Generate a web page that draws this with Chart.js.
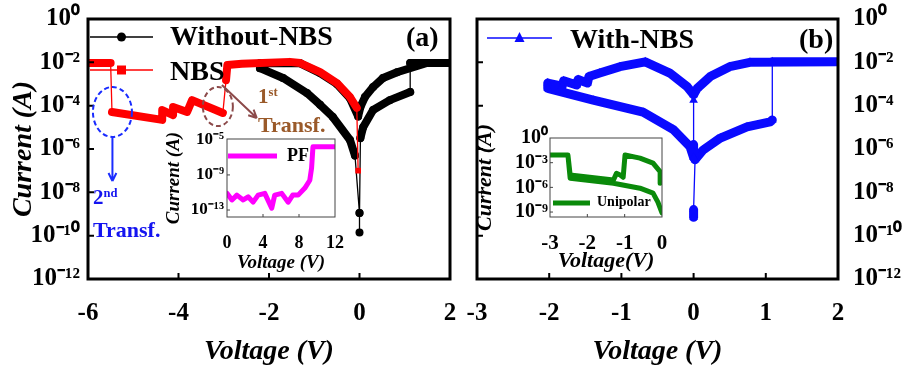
<!DOCTYPE html>
<html>
<head>
<meta charset="utf-8">
<script src="https://cdn.jsdelivr.net/npm/chart.js@4.4.1/dist/chart.umd.min.js"></script>
<style>
  body { margin: 0; background: #fff; }
  #fig { position: relative; width: 906px; height: 371px; overflow: hidden; background: #fff;
         font-family: 'Liberation Serif', 'Times New Roman', serif; }
  #fig canvas { position: absolute; }
  .txt { position: absolute; font-weight: bold; white-space: nowrap; line-height: 1; }
  .txt sup { font-size: 60%; vertical-align: 0.55em; line-height: 0; }
</style>
</head>
<body>
<div id="fig">
  <canvas id="chartA" width="460" height="371" style="left:0;top:0"></canvas>
  <canvas id="chartB" width="446" height="371" style="left:460px;top:0"></canvas>
  <canvas id="insetA" width="200" height="155" style="left:150px;top:120px"></canvas>
  <canvas id="insetB" width="200" height="155" style="left:470px;top:120px"></canvas>

  <div class="txt" style="left:170px;top:22px;font-size:28px">Without-NBS</div>
  <div class="txt" style="left:170px;top:57px;font-size:28px">NBS</div>
  <div class="txt" style="left:406px;top:23px;font-size:28px">(a)</div>
  <div class="txt" style="left:570px;top:25px;font-size:28px">With-NBS</div>
  <div class="txt" style="left:799px;top:25px;font-size:28px">(b)</div>
  <div class="txt" style="left:258px;top:86px;font-size:21px;color:#9a5a2a">1<sup>st</sup></div>
  <div class="txt" style="left:258px;top:114px;font-size:22px;color:#9a5a2a">Transf.</div>
  <div class="txt" style="left:93px;top:187px;font-size:21px;color:#1414f0">2<sup>nd</sup></div>
  <div class="txt" style="left:93px;top:219px;font-size:22px;color:#1414f0">Transf.</div>
  <div class="txt" style="left:287px;top:146px;font-size:18px">PF</div>
  <div class="txt" style="left:597px;top:195px;font-size:14px">Unipolar</div>
</div>
<script>
// ---- data ----
const mainYTicks = [1e0, 1e-2, 1e-4, 1e-6, 1e-8, 1e-10, 1e-12];
const pfYTicks = [1e-5, 1e-9, 1e-13];
const uniYTicks = [1e0, 1e-3, 1e-6, 1e-9];

// (a) Without-NBS, black circles
const noNbsV = [0, 0, 0.02, 0.08, 0.3, 0.67, 1.12, 1.12, 2.0, 1.49, 0.83, 0.52, 0.3, 0.12, 0.02,
  -0.03, -0.21, -0.5, -0.87, -1.31, -2.2, -2.2, -1.69, -1.16, -0.87, -0.59, -0.21, -0.1, 0];
const noNbsI = [1.4e-10, 1.1e-9, 3.2e-6, 1.0e-5, 6.3e-5, 1.8e-4, 4.3e-4, 9.3e-3, 9.3e-3, 9.3e-3, 3.5e-3, 1.9e-3, 7.2e-4, 2.5e-4, 8.7e-5,
  3.2e-5, 2.2e-4, 1.0e-3, 3.2e-3, 9.0e-3, 9.0e-3, 5.4e-3, 1.9e-3, 3.8e-4, 1.1e-4, 3.0e-5, 2.6e-6, 5.0e-7, 1.1e-9];

// (a) NBS, red squares
const nbsV = [-6, -5.5, -5.47, -4.36, -4.36, -4.12, -4.12, -3.81, -3.7, -3.02, -2.95, -2.92, -2.6,
  -1.54, -1.31, -0.87, -0.5, -0.21, -0.06, -0.03];
const nbsI = [9.3e-3, 9.3e-3, 5.1e-5, 2.2e-5, 6.3e-5, 3.7e-5, 8.7e-5, 5.1e-5, 1.8e-4, 4.6e-5, 1.5e-3, 7.6e-3, 8.5e-3,
  1.05e-2, 9.3e-3, 3.5e-3, 1.1e-3, 2.5e-4, 7.9e-5, 1.0e-7];

// (b) With-NBS, blue triangles
const withNbsV = [0, 0, 0.02, 0.13, 0.37, 0.74, 1.06, 1.09, 1.09, 2.0, 0.78, 0.5, 0.23, 0.05, 0,
  -0.09, -0.33, -0.67, -1.02, -1.3, -1.45, -1.47, -1.6, -1.62, -1.8, -1.82, -2.02, -2.02,
  -1.39, -0.7, -0.28, -0.05, 0, 0, 0];
const withNbsI = [7.1e-10, 1.6e-9, 3.2e-7, 8.9e-7, 3.2e-6, 1.05e-5, 1.8e-5, 2.2e-5, 1.05e-2, 1.05e-2, 1.0e-2, 6.3e-3, 2.2e-3, 6.3e-4, 3.2e-4,
  7.6e-4, 3.2e-3, 1.05e-2, 6.3e-3, 3.2e-3, 2.2e-3, 1.1e-3, 1.6e-3, 9.0e-4, 1.4e-3, 8.0e-4, 1.1e-3, 6.3e-4,
  1.8e-4, 5.0e-5, 7.9e-6, 1.3e-6, 4.0e-7, 1.6e-6, 1.8e-4];

// inset (a): PF, magenta
const pfV = [0, 0.55, 1.1, 1.8, 2.35, 2.9, 3.46, 4.2, 4.97, 5.3, 6.08, 6.8, 7.3, 7.9, 8.65, 9.2, 9.4, 9.55, 12];
const pfI = [7.9e-12, 1.4e-12, 5.0e-12, 1.4e-12, 3.2e-12, 7.9e-13, 5.0e-12, 7.9e-12, 1.6e-13, 5.0e-12, 7.9e-12, 7.9e-13,
  5.0e-12, 5.0e-12, 3.2e-11, 2.5e-10, 6.3e-9, 1.6e-6, 1.6e-6];

// inset (b): Unipolar, green
const uniV = [0, -0.11, -0.24, -0.59, -1.3, -2.46, -2.52, -3.0, -2.52, -2.46, -1.3, -1.22, -1.12, -1.04, -0.99, -0.59, -0.24, -0.05, -0.05];
const uniI = [7.9e-10, 1.6e-8, 2.0e-7, 7.9e-7, 3.2e-6, 1.3e-5, 8.5e-3, 8.5e-3, 8.5e-3, 3.2e-5, 7.9e-6, 5.0e-5, 3.2e-5, 1.7e-5, 8.5e-3, 3.6e-3, 8.9e-4, 7.9e-5, 3.2e-6];

// ---- helpers ----
const serif = "'Liberation Serif', 'Times New Roman', serif";
const SUP = { '-': '\u207B', '0': '\u2070', '1': '\u00B9', '2': '\u00B2', '3': '\u00B3', '4': '\u2074',
  '5': '\u2075', '6': '\u2076', '7': '\u2077', '8': '\u2078', '9': '\u2079' };
const powLabel = v => '10' + String(Math.round(Math.log10(v))).split('').map(c => SUP[c]).join('');
const pts = (xs, ys) => xs.map((x, i) => ({ x: x, y: ys[i] }));
const fixTicks = list => s => { s.ticks = list.map(v => ({ value: v })); };

// big vertical jumps are drawn as thin connecting lines in the figure
const thick = w => ctx => {
  const a = ctx.p0.parsed, b = ctx.p1.parsed;
  const jump = Math.abs(Math.log10(a.y) - Math.log10(b.y)) > 0.8 && Math.abs(a.x - b.x) < 0.15;
  return jump ? 1.3 : w;
};

function drawMarker(ctx, style, x, y, r) {
  ctx.beginPath();
  if (style === 'rect') ctx.rect(x - r, y - r, 2 * r, 2 * r);
  else if (style === 'triangle') { ctx.moveTo(x, y - r * 1.2); ctx.lineTo(x + r, y + r * 0.8); ctx.lineTo(x - r, y + r * 0.8); ctx.closePath(); }
  else ctx.arc(x, y, r, 0, Math.PI * 2);
  ctx.fill();
}

const framePlugin = {
  id: 'frame',
  afterDatasetsDraw(chart, args, o) {
    const { ctx, chartArea: a } = chart;
    const xs = chart.scales.x, ys = chart.scales.y;
    ctx.save();
    ctx.strokeStyle = o.color;
    ctx.lineWidth = o.width;
    ctx.strokeRect(a.left, a.top, a.right - a.left, a.bottom - a.top);
    ctx.lineWidth = o.tickWidth;
    ctx.beginPath();
    xs.ticks.forEach(t => {
      const p = xs.getPixelForValue(t.value);
      if (p > a.left + 3 && p < a.right - 3) { ctx.moveTo(p, a.bottom); ctx.lineTo(p, a.bottom - o.tick); }
    });
    ys.ticks.forEach(t => {
      const p = ys.getPixelForValue(t.value);
      if (p > a.top + 3 && p < a.bottom - 3) { ctx.moveTo(a.left, p); ctx.lineTo(a.left + o.tick, p); }
    });
    ctx.stroke();
    // legend samples
    (o.keys || []).forEach(k => {
      ctx.strokeStyle = k.color; ctx.fillStyle = k.color; ctx.lineWidth = k.lw;
      ctx.beginPath(); ctx.moveTo(k.x1, k.y); ctx.lineTo(k.x2, k.y); ctx.stroke();
      if (k.style) drawMarker(ctx, k.style, (k.x1 + k.x2) / 2, k.y, k.r);
    });
    // dashed ellipses and arrows, placed in data coordinates
    (o.ellipses || []).forEach(e => {
      ctx.strokeStyle = e.color; ctx.lineWidth = 2; ctx.setLineDash([5, 3]);
      ctx.beginPath();
      ctx.ellipse(xs.getPixelForValue(e.x), ys.getPixelForValue(e.y), e.rx, e.ry, 0, 0, Math.PI * 2);
      ctx.stroke();
      ctx.setLineDash([]);
    });
    (o.arrows || []).forEach(r => {
      const x0 = xs.getPixelForValue(r.from[0]), y0 = ys.getPixelForValue(r.from[1]);
      const x1 = xs.getPixelForValue(r.to[0]), y1 = ys.getPixelForValue(r.to[1]);
      const ang = Math.atan2(y1 - y0, x1 - x0);
      ctx.strokeStyle = r.color; ctx.lineWidth = 2;
      ctx.beginPath(); ctx.moveTo(x0, y0); ctx.lineTo(x1, y1);
      ctx.moveTo(x1, y1); ctx.lineTo(x1 - 9 * Math.cos(ang - 0.45), y1 - 9 * Math.sin(ang - 0.45));
      ctx.moveTo(x1, y1); ctx.lineTo(x1 - 9 * Math.cos(ang + 0.45), y1 - 9 * Math.sin(ang + 0.45));
      ctx.stroke();
    });
    ctx.restore();
  }
};

function lineSet(label, data, color, width, style, r, order, segThin) {
  return {
    label: label, data: data, order: order,
    borderColor: color, backgroundColor: color, borderWidth: width,
    borderJoinStyle: 'round', borderCapStyle: 'round',
    pointStyle: style, pointRadius: r, pointBorderWidth: 0, pointBackgroundColor: color,
    segment: segThin ? { borderWidth: thick(width) } : undefined,
    tension: 0
  };
}

function baseOptions(cfg) {
  return {
    responsive: false, animation: false, events: [],
    layout: { padding: cfg.padding },
    plugins: { legend: { display: false }, tooltip: { enabled: false }, frame: cfg.frame },
    scales: {
      x: {
        type: 'linear', min: cfg.xMin, max: cfg.xMax,
        grid: { display: false, drawTicks: false }, border: { display: false },
        ticks: { stepSize: cfg.xStep, autoSkip: false, maxRotation: 0, padding: cfg.xPad, color: '#000',
                 font: { family: serif, size: cfg.xFont, weight: 'bold' } },
        title: { display: true, text: cfg.xTitle, color: '#000', padding: { top: 0, bottom: cfg.xTitlePad },
                 font: { family: serif, size: cfg.xTitleFont, weight: 'bold', style: 'italic' } },
        afterFit: s => { s.height = cfg.xHeight; s.paddingLeft = 0; s.paddingRight = 0; }
      },
      y: {
        type: 'logarithmic', position: cfg.yPos, min: cfg.yMin, max: cfg.yMax,
        grid: { display: false, drawTicks: false }, border: { display: false },
        afterBuildTicks: fixTicks(cfg.yTicks),
        ticks: { callback: v => powLabel(v), autoSkip: false, padding: cfg.yPad, color: '#000',
                 font: { family: serif, size: cfg.yFont, weight: 'bold' } },
        title: { display: !!cfg.yTitle, text: cfg.yTitle, color: '#000', padding: { top: cfg.yTitlePad, bottom: 0 },
                 font: { family: serif, size: cfg.yTitleFont, weight: 'bold', style: 'italic' } },
        afterFit: s => { s.width = cfg.yWidth; s.paddingTop = 0; s.paddingBottom = 0; }
      }
    }
  };
}

// ---- panel (a) ----
new Chart(document.getElementById('chartA'), {
  type: 'line',
  data: { datasets: [
    lineSet('NBS', pts(nbsV, nbsI), '#ff0000', 8, 'rect', 4, 0, true),
    lineSet('Without-NBS', pts(noNbsV, noNbsI), '#000000', 8, 'circle', 4, 1, true)
  ] },
  options: baseOptions({
    padding: { left: 0, right: 10, top: 19, bottom: 0 },
    xMin: -6, xMax: 2, xStep: 2, xPad: 20, xFont: 25, xHeight: 92,
    xTitle: 'Voltage (V)', xTitleFont: 28, xTitlePad: 2,
    yPos: 'left', yMin: 1e-12, yMax: 1, yTicks: mainYTicks, yPad: 8, yFont: 25, yWidth: 88,
    yTitle: 'Current (A)', yTitleFont: 28, yTitlePad: 7,
    frame: {
      color: '#000', width: 3, tick: 6, tickWidth: 2,
      keys: [
        { x1: 90, x2: 153, y: 37, color: '#000', lw: 1.5, style: 'circle', r: 4.5 },
        { x1: 90, x2: 153, y: 70, color: '#ff0000', lw: 1.5, style: 'rect', r: 4.5 }
      ],
      ellipses: [
        { x: -5.46, y: 5.1e-5, rx: 19.5, ry: 25, color: '#1a2cff' },
        { x: -3.13, y: 9.1e-5, rx: 15, ry: 19.5, color: '#8c4a4a' }
      ],
      arrows: [
        { from: [-5.46, 3.5e-6], to: [-5.46, 3.3e-8], color: '#1a2cff' },
        { from: [-3.04, 9e-4], to: [-2.27, 2.7e-5], color: '#8c4a4a' }
      ]
    }
  }),
  plugins: [framePlugin]
});

// ---- panel (b) ----
new Chart(document.getElementById('chartB'), {
  type: 'line',
  data: { datasets: [
    lineSet('With-NBS', pts(withNbsV, withNbsI), '#0a0aff', 9, 'triangle', 5, 0, true)
  ] },
  options: baseOptions({
    padding: { left: 17, right: 0, top: 19, bottom: 0 },
    xMin: -3, xMax: 2, xStep: 1, xPad: 20, xFont: 25, xHeight: 92,
    xTitle: 'Voltage (V)', xTitleFont: 28, xTitlePad: 2,
    yPos: 'right', yMin: 1e-12, yMax: 1, yTicks: mainYTicks, yPad: 15, yFont: 25, yWidth: 68,
    yTitle: '', yTitleFont: 28, yTitlePad: 0,
    frame: {
      color: '#000', width: 3, tick: 6, tickWidth: 2,
      keys: [ { x1: 27, x2: 92, y: 38, color: '#0a0aff', lw: 1.5, style: 'triangle', r: 5 } ]
    }
  }),
  plugins: [framePlugin]
});

// ---- inset (a) ----
new Chart(document.getElementById('insetA'), {
  type: 'line',
  data: { datasets: [ lineSet('PF', pts(pfV, pfI), '#ff00ff', 5, 'circle', 0, 0, false) ] },
  options: baseOptions({
    padding: { left: 0, right: 15, top: 19, bottom: 0 },
    xMin: 0, xMax: 12, xStep: 4, xPad: 16, xFont: 18, xHeight: 58,
    xTitle: 'Voltage (V)', xTitleFont: 19, xTitlePad: 1,
    yPos: 'left', yMin: 1.6e-14, yMax: 1.25e-5, yTicks: pfYTicks, yPad: 3, yFont: 17, yWidth: 77,
    yTitle: 'Current (A)', yTitleFont: 19, yTitlePad: 13,
    frame: { color: '#444', width: 1, tick: 3, tickWidth: 1,
      keys: [ { x1: 78, x2: 127, y: 36, color: '#ff00ff', lw: 5 } ] }
  }),
  plugins: [framePlugin]
});

// ---- inset (b) ----
new Chart(document.getElementById('insetB'), {
  type: 'line',
  data: { datasets: [ lineSet('Unipolar', pts(uniV, uniI), '#0a8a0a', 5, 'circle', 0, 0, false) ] },
  options: baseOptions({
    padding: { left: 0, right: 8, top: 18, bottom: 0 },
    xMin: -3, xMax: 0, xStep: 1, xPad: 14, xFont: 21, xHeight: 58,
    xTitle: 'Voltage(V)', xTitleFont: 22, xTitlePad: 0,
    yPos: 'left', yMin: 2.5e-10, yMax: 1, yTicks: uniYTicks, yPad: 2, yFont: 20, yWidth: 80,
    yTitle: 'Current (A)', yTitleFont: 22, yTitlePad: 2,
    frame: { color: '#444', width: 1, tick: 3, tickWidth: 1,
      keys: [ { x1: 83, x2: 120, y: 83, color: '#0a8a0a', lw: 5 } ] }
  }),
  plugins: [framePlugin]
});
</script>
</body>
</html>
